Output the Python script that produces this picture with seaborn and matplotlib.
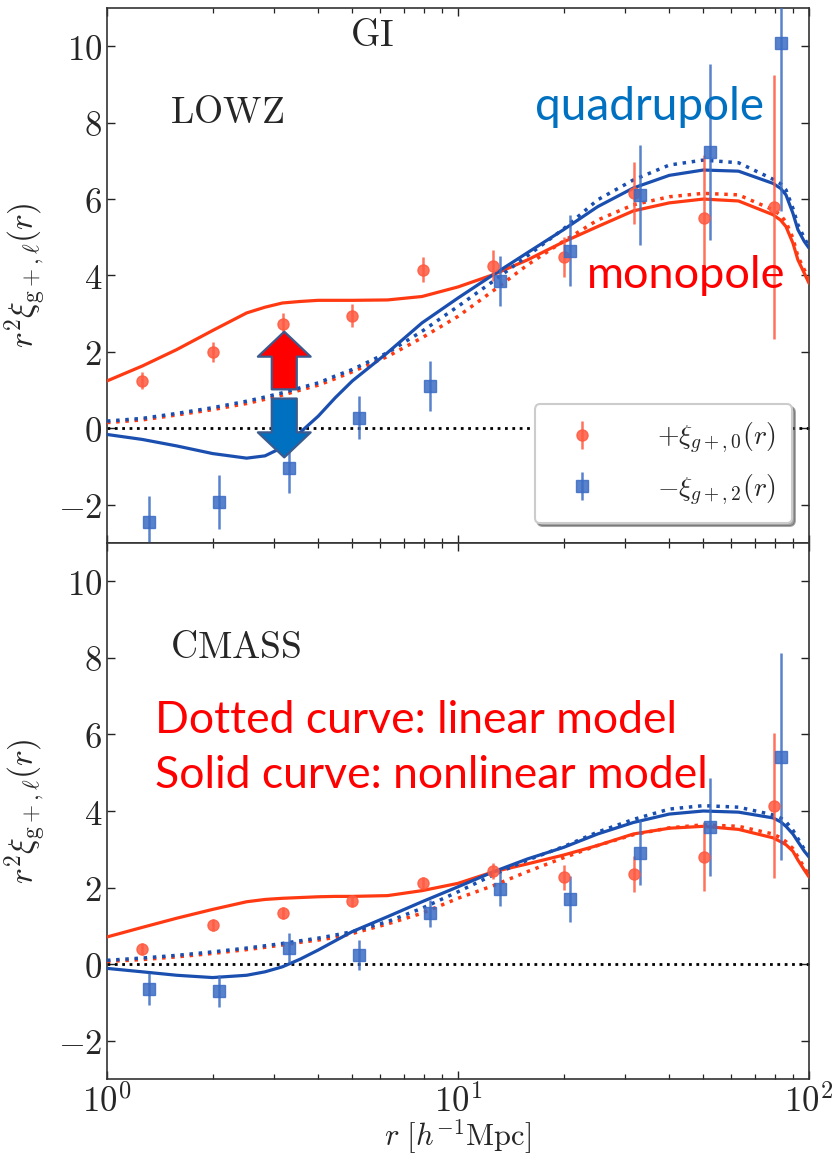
import numpy as np
import matplotlib
matplotlib.use("Agg")
import matplotlib.pyplot as plt
import seaborn as sns
from matplotlib.patches import FancyArrowPatch, ArrowStyle
from matplotlib.ticker import FuncFormatter, NullFormatter, FixedLocator

# ---------------- data ----------------
# measured points (log-spaced bins); blue points slightly offset in r
R_MONO = [1.26, 2.0, 3.17, 5.0, 7.94, 12.6, 20.0, 31.7, 50.2, 79.4]
R_QUAD = [1.32, 2.08, 3.30, 5.23, 8.30, 13.2, 20.9, 33.0, 52.4, 83.0]

LOWZ_MONO = [1.25, 2.00, 2.72, 2.95, 4.15, 4.26, 4.49, 6.16, 5.51, 5.80]
LOWZ_MONO_ERR = [0.23, 0.27, 0.30, 0.30, 0.33, 0.40, 0.52, 0.80, 1.65, 3.45]
LOWZ_QUAD = [-2.45, -1.93, -1.05, 0.28, 1.10, 3.86, 4.65, 6.11, 7.23, 10.08]
LOWZ_QUAD_ERR = [0.67, 0.70, 0.65, 0.57, 0.65, 0.65, 0.93, 1.30, 2.30, 4.40]

CMASS_MONO = [0.39, 1.02, 1.33, 1.65, 2.12, 2.43, 2.27, 2.36, 2.80, 4.14]
CMASS_MONO_ERR = [0.15, 0.15, 0.15, 0.15, 0.15, 0.20, 0.33, 0.47, 0.90, 1.90]
CMASS_QUAD = [-0.65, -0.70, 0.43, 0.24, 1.33, 1.96, 1.70, 2.91, 3.58, 5.42]
CMASS_QUAD_ERR = [0.41, 0.42, 0.39, 0.40, 0.35, 0.45, 0.60, 0.85, 1.27, 2.70]

R_MODEL = [1.0, 1.26, 1.58, 2.0, 2.5, 2.82, 3.16, 3.55, 4.0, 4.47, 5.0, 6.3, 7.9, 10,
           12.6, 15.8, 20, 25, 31.6, 40, 50, 63, 79, 83, 86, 90, 93, 97, 100]

LOWZ_MONO_NL = [1.24, 1.63, 2.06, 2.56, 3.02, 3.17, 3.28, 3.32, 3.35, 3.35, 3.35, 3.36, 3.45, 3.70,
                4.02, 4.41, 4.88, 5.28, 5.69, 5.90, 6.00, 5.95, 5.59, 5.45, 5.28, 4.85, 4.41, 4.06, 3.80]
LOWZ_MONO_LIN = [0.15, 0.22, 0.35, 0.49, 0.65, 0.76, 0.87, 1.00, 1.13, 1.30, 1.48, 1.88, 2.37, 2.93,
                 3.60, 4.28, 4.90, 5.45, 5.85, 6.06, 6.15, 6.11, 5.72, 5.58, 5.40, 4.98, 4.50, 4.15, 3.90]
LOWZ_QUAD_NL = [-0.16, -0.29, -0.46, -0.66, -0.78, -0.72, -0.50, -0.11, 0.32, 0.80, 1.24, 1.98, 2.76, 3.41,
                4.02, 4.60, 5.20, 5.80, 6.29, 6.62, 6.76, 6.73, 6.41, 6.28, 6.11, 5.63, 5.20, 4.89, 4.72]
LOWZ_QUAD_LIN = [0.19, 0.26, 0.39, 0.54, 0.71, 0.82, 0.93, 1.06, 1.19, 1.37, 1.54, 1.98, 2.54, 3.19,
                 3.85, 4.52, 5.22, 5.98, 6.50, 6.89, 7.02, 6.95, 6.52, 6.40, 6.24, 5.76, 5.33, 4.98, 4.76]

CMASS_MONO_NL = [0.71, 0.96, 1.20, 1.43, 1.63, 1.69, 1.72, 1.74, 1.76, 1.77, 1.77, 1.79, 1.92, 2.11,
                 2.41, 2.62, 2.85, 3.10, 3.40, 3.55, 3.60, 3.52, 3.30, 3.20, 3.12, 2.95, 2.72, 2.46, 2.28]
CMASS_MONO_LIN = [0.07, 0.12, 0.19, 0.28, 0.38, 0.44, 0.50, 0.57, 0.63, 0.70, 0.80, 1.05, 1.33, 1.72,
                  2.05, 2.42, 2.78, 3.10, 3.38, 3.56, 3.64, 3.60, 3.40, 3.30, 3.20, 3.02, 2.80, 2.52, 2.33]
CMASS_QUAD_NL = [-0.11, -0.20, -0.29, -0.35, -0.29, -0.20, -0.07, 0.13, 0.37, 0.61, 0.85, 1.24, 1.63, 2.02,
                 2.41, 2.75, 3.05, 3.40, 3.70, 3.92, 4.00, 3.97, 3.82, 3.72, 3.60, 3.40, 3.20, 2.95, 2.80]
CMASS_QUAD_LIN = [0.10, 0.16, 0.23, 0.32, 0.42, 0.48, 0.54, 0.61, 0.68, 0.76, 0.85, 1.11, 1.46, 1.89,
                  2.33, 2.72, 3.07, 3.45, 3.78, 4.05, 4.14, 4.10, 3.90, 3.82, 3.72, 3.50, 3.28, 3.00, 2.88]

Y_TICKS = [-2, 0, 2, 4, 6, 8, 10]
X_TICKS = [1, 10, 100]
LEGEND_LABELS = [r'$+\xi_{g+,0}(r)$', r'$-\xi_{g+,2}(r)$']

# ---------------- style ----------------
sns.set_style("ticks")
plt.rcParams['mathtext.fontset'] = 'cm'
plt.rcParams['font.family'] = ['DejaVu Serif', 'DejaVu Sans']
plt.rcParams['axes.unicode_minus'] = True

RED_LINE = '#FF3A12'
BLUE_LINE = '#1A4FB0'
RED_PT = '#FF5A40'
BLUE_PT = '#3C6CC4'
SANS = ['Lato', 'DejaVu Sans']

fig = plt.figure(figsize=(8.35, 11.58), dpi=100)
ax1 = fig.add_axes([0.1281, 0.5311, 0.8407, 0.4620])
ax2 = fig.add_axes([0.1281, 0.0682, 0.8407, 0.4629])


def draw_panel(ax, mono, mono_err, quad, quad_err, m_nl, m_lin, q_nl, q_lin):
    ax.set_xscale('log')
    ax.axhline(0, color='black', lw=2.0, ls=':', zorder=1)
    sns.lineplot(x=R_MODEL, y=m_nl, ax=ax, color=RED_LINE, lw=2.3, zorder=3)
    sns.lineplot(x=R_MODEL, y=m_lin, ax=ax, color=RED_LINE, lw=2.5, linestyle=':', zorder=3)
    sns.lineplot(x=R_MODEL, y=q_nl, ax=ax, color=BLUE_LINE, lw=2.3, zorder=3)
    sns.lineplot(x=R_MODEL, y=q_lin, ax=ax, color=BLUE_LINE, lw=2.5, linestyle=':', zorder=3)
    h1 = ax.errorbar(R_MONO, mono, yerr=mono_err, fmt='o', ms=8, color=RED_PT, alpha=0.85,
                     elinewidth=1.8, capsize=0, zorder=4, label=LEGEND_LABELS[0])
    h2 = ax.errorbar(R_QUAD, quad, yerr=quad_err, fmt='s', ms=8, color=BLUE_PT, alpha=0.85,
                     elinewidth=1.8, capsize=0, zorder=4, label=LEGEND_LABELS[1])
    ax.set_xlim(1, 100)
    ax.set_ylim(-3, 11)
    ax.yaxis.set_major_locator(FixedLocator(Y_TICKS))
    ax.yaxis.set_major_formatter(FuncFormatter(lambda v, p: r'$%d$' % round(v)))
    ax.xaxis.set_major_locator(FixedLocator(X_TICKS))
    ax.xaxis.set_major_formatter(FuncFormatter(lambda v, p: r'$10^{%d}$' % round(np.log10(v))))
    ax.xaxis.set_minor_formatter(NullFormatter())
    ax.tick_params(which='both', direction='in', top=True, right=True, labelsize=25,
                   color='#222222')
    ax.tick_params(which='major', length=6, width=1.0)
    ax.tick_params(which='minor', length=3.5, width=0.9)
    for s in ax.spines.values():
        s.set_linewidth(1.2)
        s.set_color('#333333')
    ax.set_ylabel(r'$r^2\xi_{\rm g+,\ell}(r)$', fontsize=24, labelpad=6)
    return h1, h2


h1, h2 = draw_panel(ax1, LOWZ_MONO, LOWZ_MONO_ERR, LOWZ_QUAD, LOWZ_QUAD_ERR,
                    LOWZ_MONO_NL, LOWZ_MONO_LIN, LOWZ_QUAD_NL, LOWZ_QUAD_LIN)
draw_panel(ax2, CMASS_MONO, CMASS_MONO_ERR, CMASS_QUAD, CMASS_QUAD_ERR,
           CMASS_MONO_NL, CMASS_MONO_LIN, CMASS_QUAD_NL, CMASS_QUAD_LIN)

ax1.tick_params(labelbottom=False)
ax2.set_xlabel(r'$r\ [h^{-1}{\rm Mpc}]$', fontsize=22, labelpad=-1)

# panel labels
ax1.text(5.69, 10.0, r'$\mathrm{GI}$', fontsize=27, ha='center', va='baseline')
ax1.text(1.51, 8.0, r'$\mathrm{LOWZ}$', fontsize=27, ha='left', va='baseline')
ax2.text(1.51, 8.0, r'$\mathrm{CMASS}$', fontsize=27, ha='left', va='baseline')

# annotations
ax1.text(16.6, 8.07, 'quadrupole', color='#0070C0', fontsize=33, family=SANS,
         ha='left', va='baseline', zorder=6)
ax1.text(23.3, 3.66, 'monopole', color='#FF0000', fontsize=32.5, family=SANS,
         ha='left', va='baseline', zorder=6)
ax2.text(1.37, 6.05, 'Dotted curve: linear model', color='#FF0000', fontsize=32,
         family=SANS, ha='left', va='baseline', zorder=6)
ax2.text(1.37, 4.61, 'Solid curve: nonlinear model', color='#FF0000', fontsize=32,
         family=SANS, ha='left', va='baseline', zorder=6)

# block arrows
style = ArrowStyle.Simple(head_length=18, head_width=38, tail_width=18)
up = FancyArrowPatch(posA=(3.2, 1.02), posB=(3.2, 2.53), arrowstyle=style, mutation_scale=1,
                     fc='#FF0000', ec='#3B5B8E', lw=1.6, shrinkA=0, shrinkB=0,
                     transform=ax1.transData, zorder=7)
down = FancyArrowPatch(posA=(3.2, 0.78), posB=(3.2, -0.76), arrowstyle=style, mutation_scale=1,
                       fc='#0070C0', ec='#3B5B8E', lw=1.6, shrinkA=0, shrinkB=0,
                       transform=ax1.transData, zorder=7)
ax1.add_patch(up)
ax1.add_patch(down)

leg = ax1.legend(handles=[h1, h2], labels=LEGEND_LABELS, loc='lower right',
                 bbox_to_anchor=(0.976, 0.037), borderaxespad=0, fontsize=20,
                 frameon=True, fancybox=True, shadow=True, framealpha=1,
                 handletextpad=1.6, labelspacing=0.6, borderpad=0.6, handlelength=2.2)
leg.get_frame().set_edgecolor('#cccccc')
leg.get_frame().set_linewidth(1.5)
leg.set_zorder(8)

fig.savefig('out.png', dpi=100)
